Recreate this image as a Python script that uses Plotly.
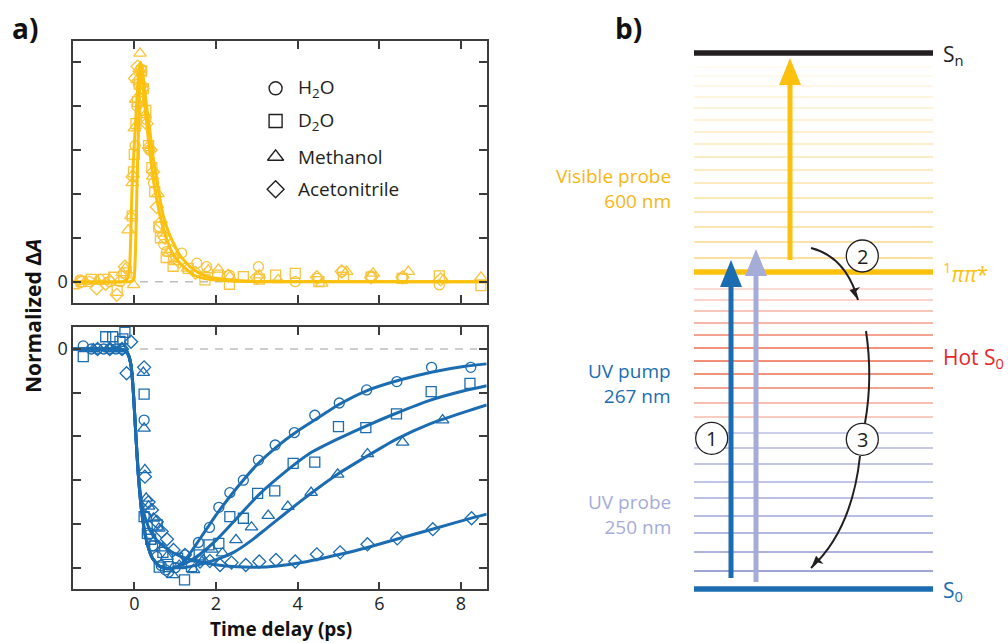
import plotly.graph_objects as go

W, H = 1008, 643

# ---------------- data: panel a, top (visible probe) ----------------
vis_fit1_x = [-1.5, -0.3, -0.2, -0.14, -0.11, -0.085, -0.06, -0.02, 0.02, 0.07, 0.11, 0.15,
              0.2, 0.25, 0.32, 0.4, 0.47, 0.55, 0.63, 0.72, 0.83, 0.95, 1.12, 1.3, 1.45, 1.7, 2.0, 2.5, 3.0, 8.63]
vis_fit1_y = [0.0, 0.0, 0.005, 0.03, 0.08, 0.22, 0.4, 0.56, 0.69, 0.85, 0.95, 1.0,
              0.92, 0.81, 0.69, 0.56, 0.46, 0.375, 0.30, 0.235, 0.175, 0.125, 0.084, 0.052, 0.03, 0.015, 0.007, 0.002, 0.0, 0.0]
vis_fit2_x = [-1.5, -0.1, -0.04, 0.0, 0.02, 0.04, 0.06, 0.08, 0.1, 0.12, 0.14, 0.16,
              0.22, 0.3, 0.38, 0.46, 0.55, 0.63, 0.71, 0.83, 0.96, 1.1, 1.28, 1.45, 1.69, 2.0, 2.5, 3.0, 8.63]
vis_fit2_y = [0.0, 0.0, 0.005, 0.03, 0.09, 0.22, 0.39, 0.54, 0.69, 0.83, 0.95, 1.0,
              0.93, 0.8, 0.69, 0.57, 0.46, 0.375, 0.30, 0.23, 0.175, 0.125, 0.084, 0.055, 0.03, 0.015, 0.005, 0.001, 0.0]

vis_h2o_x = [-1.33, -1.1, -0.85, -0.6, -0.35, -0.1, 0.02, 0.06, 0.1, 0.16, 0.22, 0.28, 0.37, 0.47, 0.61,
             0.72, 0.79, 0.96, 1.16, 1.53, 1.77, 2.33, 3.04, 3.94, 4.48, 5.09, 5.79, 6.57, 7.47]
vis_h2o_y = [0.008, 0.0, 0.01, 0.0, 0.0, 0.02, 0.62, 0.8, 0.9, 0.97, 0.88, 0.74, 0.6, 0.45, 0.25,
             0.17, 0.137, 0.106, 0.13, 0.084, 0.068, 0.03, 0.068, 0.0, 0.015, 0.046, 0.026, 0.015, -0.015]
vis_d2o_x = [-1.3, -1.05, -0.75, -0.5, -0.42, -0.2, -0.05, -0.02, 0.0, 0.04, 0.08, 0.12, 0.18, 0.22, 0.28,
             0.35, 0.43, 0.5, 0.6, 0.64, 0.78, 0.95, 1.32, 1.73, 2.04, 2.33, 2.67, 3.06, 3.46, 3.94, 4.52,
             5.12, 5.8, 6.56, 7.47, 8.49]
vis_d2o_y = [0.0, 0.01, 0.01, 0.02, -0.04, 0.04, 0.3, 0.5, 0.58, 0.72, 0.82, 0.9, 0.96, 0.88, 0.78,
             0.62, 0.52, 0.41, 0.25, 0.2, 0.11, 0.07, 0.06, 0.008, 0.03, -0.012, 0.023, 0.011, 0.03, 0.038, 0.0,
             0.02, 0.02, 0.015, 0.026, -0.018]
vis_meoh_x = [-1.5, -1.2, -0.9, -0.6, -0.3, -0.22, -0.15, -0.08, -0.02, -0.05, 0.0, 0.03, 0.07, 0.12, 0.14,
              0.2, 0.27, 0.35, 0.45, 0.58, 0.7, 0.85, 1.0, 1.3, 1.81, 2.06, 2.34, 3.06, 3.52, 4.59, 5.2,
              5.85, 6.71, 7.57, 8.49]
vis_meoh_y = [-0.02, 0.0, 0.0, 0.01, 0.04, 0.06, 0.235, 0.3, -0.015, 0.45, 0.7, 0.83, 0.92, 0.97, 1.04,
              0.9, 0.76, 0.62, 0.48, 0.4, 0.22, 0.13, 0.09, 0.06, 0.053, 0.056, 0.023, 0.03, 0.008, -0.008, 0.046,
              0.038, 0.046, 0.008, 0.02]
vis_acn_x = [-1.3, -0.92, -0.7, -0.43, -0.23, -0.04, 0.016, 0.08, 0.14, 0.2, 0.3, 0.4, 0.46, 0.55, 0.65,
             0.75, 0.9, 1.1, 1.5, 2.3, 3.0, 4.47, 5.08, 5.8, 6.57, 7.5]
vis_acn_y = [0.0, -0.03, -0.01, -0.06, 0.068, 0.478, 0.926, 0.98, 0.95, 0.88, 0.72, 0.6, 0.5, 0.34, 0.27,
             0.2, 0.14, 0.09, 0.04, 0.026, 0.02, 0.02, 0.046, 0.02, 0.02, 0.01]

# ---------------- data: panel a, bottom (UV probe) ----------------
uv_early_x = [-1.5, -0.5, -0.3, -0.22, -0.15, -0.08, -0.024, 0.033, 0.099]
uv_early_y = [0.0, 0.0, -0.002, -0.008, -0.025, -0.075, -0.195, -0.378, -0.576]
uv_fast_x = [0.18, 0.287, 0.425, 0.59, 0.8, 1.0]
uv_fast_y = [-0.744, -0.866, -0.95, -0.99, -1.005, -1.0]

uv_fit_h2o_x = [1.2, 1.4, 1.6, 1.8, 2.0, 2.3, 2.6, 3.0, 3.5, 4.0, 4.5, 5.0, 5.7, 6.5, 7.3, 8.1, 8.63]
uv_fit_h2o_y = [-0.975, -0.925, -0.87, -0.815, -0.76, -0.685, -0.615, -0.53, -0.445, -0.375, -0.315,
                -0.255, -0.19, -0.142, -0.105, -0.079, -0.068]
uv_fit_d2o_x = [1.2, 1.4, 1.6, 2.0, 2.43, 3.04, 3.65, 4.3, 5.0, 5.7, 6.4, 7.2, 8.1, 8.63]
uv_fit_d2o_y = [-0.985, -0.965, -0.94, -0.875, -0.79, -0.668, -0.569, -0.477, -0.41, -0.35, -0.295,
                -0.237, -0.19, -0.168]
uv_fit_meoh_x = [1.2, 1.6, 2.0, 2.43, 2.83, 3.24, 3.65, 4.06, 4.47, 4.96, 5.7, 6.42, 7.24, 8.14, 8.63]
uv_fit_meoh_y = [-1.0, -0.985, -0.963, -0.93, -0.881, -0.82, -0.759, -0.698, -0.64, -0.575, -0.49,
                 -0.412, -0.342, -0.285, -0.256]
uv_fit_acn_x = [0.18, 0.28, 0.4, 0.55, 0.7, 0.9, 1.12, 1.4, 1.61, 2.0, 2.5, 3.0, 3.5, 4.0, 4.5, 5.04,
                5.69, 6.42, 7.32, 8.3, 8.63]
uv_fit_acn_y = [-0.7, -0.78, -0.835, -0.875, -0.9, -0.926, -0.947, -0.964, -0.973, -0.987, -0.996,
                -0.998, -0.992, -0.98, -0.962, -0.939, -0.909, -0.87, -0.823, -0.771, -0.755]

uv_h2o_x = [-1.25, -1.05, -0.9, -0.75, -0.6, -0.45, -0.3, 0.24, 0.3, 0.36, 0.45, 0.55, 0.66, 0.76, 0.84,
            1.0, 1.24, 1.57, 1.84, 2.07, 2.34, 2.67, 3.04, 3.45, 3.92, 4.42, 5.02, 5.69, 6.43, 7.28, 8.24]
uv_h2o_y = [0.014, 0.0, 0.0, 0.0, 0.0, 0.0, 0.0, -0.325, -0.77, -0.85, -0.9, -0.95, -0.99, -1.01, -1.02,
            -1.0, -0.942, -0.885, -0.816, -0.724, -0.657, -0.6, -0.508, -0.439, -0.382, -0.303, -0.247,
            -0.187, -0.149, -0.084, -0.084]
uv_d2o_x = [-1.25, -0.7, -0.53, -0.35, -0.28, -0.23, 0.24, 0.24, 0.32, 0.4, 0.5, 0.56, 0.61, 0.7, 0.83,
            1.06, 1.23, 1.4, 1.59, 1.83, 2.07, 2.34, 2.67, 3.02, 3.44, 3.89, 4.42, 5.0, 5.67, 6.42, 7.27, 8.22]
uv_d2o_y = [-0.035, 0.056, 0.056, 0.035, 0.046, 0.076, -0.206, -0.767, -0.843, -0.87, -0.9, -0.805,
            -0.998, -0.93, -0.995, -0.957, -1.056, -0.995, -0.942, -0.896, -0.889, -0.767, -0.774, -0.66,
            -0.649, -0.523, -0.517, -0.355, -0.36, -0.297, -0.195, -0.157]
uv_meoh_x = [-1.0, -0.6, -0.3, 0.22, 0.24, 0.26, 0.29, 0.35, 0.47, 0.6, 0.69, 0.8, 0.94, 1.1, 1.45, 1.69,
             1.9, 2.16, 2.49, 2.87, 3.28, 3.76, 4.33, 4.98, 5.71, 6.57, 7.55]
uv_meoh_y = [0.0, 0.0, 0.0, -0.108, -0.363, -0.553, -0.683, -0.72, -0.774, -0.82, -0.911, -0.95, -1.033,
             -0.99, -1.01, -0.965, -0.916, -0.934, -0.873, -0.815, -0.762, -0.721, -0.657, -0.573, -0.48,
             -0.427, -0.325]
uv_acn_x = [-0.9, -0.6, -0.3, -0.19, -0.08, 0.24, 0.26, 0.35, 0.43, 0.55, 0.67, 0.8, 0.96, 1.24, 1.61,
            1.85, 2.1, 2.38, 2.73, 3.06, 3.47, 3.94, 4.47, 5.04, 5.71, 6.44, 7.31, 8.26]
uv_acn_y = [0.0, 0.0, 0.0, -0.111, 0.033, -0.084, -0.584, -0.7, -0.736, -0.79, -0.835, -0.87, -0.919,
            -0.942, -0.972, -0.97, -0.988, -0.977, -0.988, -0.972, -0.965, -0.972, -0.939, -0.93, -0.893,
            -0.866, -0.824, -0.774]

x_ticks = [0, 2, 4, 6, 8]
x_tick_labels = ["0", "2", "4", "6", "8"]
top_y_minor = [0.2, 0.4, 0.6, 0.8, 1.0]
bottom_y_minor = [-0.2, -0.4, -0.6, -0.8, -1.0]
zero_line_x = [0.14, 8.4]

legend_labels = ["H<sub>2</sub>O", "D<sub>2</sub>O", "Methanol", "Acetonitrile"]
legend_symbols = ["circle-open", "square-open", "triangle-up-open", "diamond-open"]
legend_y = [0.881, 0.732, 0.569, 0.421]
legend_marker_x = 3.46
legend_text_x = 3.95

# ---------------- data: panel b (level diagram, diagram units = px) ----------------
level_sn, level_pp, level_s0 = 53, 272, 589
upper_levels = [67, 76, 86, 97, 108, 120, 132, 144, 157, 170, 183, 198, 212, 227, 242, 258]
upper_alpha = [0.06, 0.08, 0.12, 0.15, 0.17, 0.2, 0.22, 0.24, 0.26, 0.28, 0.3, 0.32, 0.34, 0.37, 0.4, 0.45]
hot_levels = [289, 300, 311, 323, 335, 348, 361, 374, 388, 403, 417]
hot_alpha = [0.25, 0.3, 0.4, 0.5, 0.65, 0.75, 0.78, 0.75, 0.65, 0.45, 0.35]
cold_levels = [433, 448, 464, 482, 498, 516, 533, 552, 571]
cold_alpha = [0.45, 0.5, 0.52, 0.55, 0.58, 0.62, 0.66, 0.72, 0.85]
level_x = [694, 933]

YEL = '#FCC10E'
YEL_MK = '#F9C43C'
BLUE = '#1B6CB1'
LAV = '#A6ACD8'
RED = '#E5252B'
DARK = '#231F20'
AX = '#3C3C3C'
FONT = 'Open Sans'

fig = go.Figure()


def scat(x, y, xa, ya, **kw):
    fig.add_trace(go.Scatter(x=x, y=y, xaxis=xa, yaxis=ya, showlegend=False,
                             hoverinfo='skip', **kw))


# zero dashed lines
for xa, ya in (('x', 'y'), ('x2', 'y2')):
    scat(zero_line_x, [0, 0], xa, ya, mode='lines',
         line=dict(color='#BDBDBD', width=1.5, dash='8px,7px'))

mk_sizes = {"circle-open": 10, "square-open": 10, "triangle-up-open": 11, "diamond-open": 10}

# top markers
for (xs, ys), sym in zip([(vis_h2o_x, vis_h2o_y), (vis_d2o_x, vis_d2o_y),
                          (vis_meoh_x, vis_meoh_y), (vis_acn_x, vis_acn_y)], legend_symbols):
    scat(xs, ys, 'x', 'y', mode='markers',
         marker=dict(symbol=sym, size=mk_sizes[sym], color=YEL_MK, line=dict(width=1.3)))
# top fits
for xs, ys in ((vis_fit1_x, vis_fit1_y), (vis_fit2_x, vis_fit2_y)):
    scat(xs, ys, 'x', 'y', mode='lines', line=dict(color=YEL, width=3, shape='spline', smoothing=0.6))

# bottom markers
for (xs, ys), sym in zip([(uv_h2o_x, uv_h2o_y), (uv_d2o_x, uv_d2o_y),
                          (uv_meoh_x, uv_meoh_y), (uv_acn_x, uv_acn_y)], legend_symbols):
    scat(xs, ys, 'x2', 'y2', mode='markers',
         marker=dict(symbol=sym, size=mk_sizes[sym], color=BLUE, line=dict(width=1.3)))
# bottom fits
fast_x = uv_early_x + uv_fast_x
fast_y = uv_early_y + uv_fast_y
for tx, ty in ((uv_fit_h2o_x, uv_fit_h2o_y), (uv_fit_d2o_x, uv_fit_d2o_y), (uv_fit_meoh_x, uv_fit_meoh_y)):
    scat(fast_x + tx, fast_y + ty, 'x2', 'y2', mode='lines',
         line=dict(color=BLUE, width=3, shape='spline', smoothing=0.6))
scat(uv_early_x + uv_fit_acn_x, uv_early_y + uv_fit_acn_y, 'x2', 'y2', mode='lines',
     line=dict(color=BLUE, width=3, shape='spline', smoothing=0.6))

# legend glyphs (black)
for sym, ly in zip(legend_symbols, legend_y):
    scat([legend_marker_x], [ly], 'x', 'y', mode='markers',
         marker=dict(symbol=sym, size=13 if sym != 'triangle-up-open' else 14, color=DARK, line=dict(width=1.4)))

annotations = []
for lab, ly in zip(legend_labels, legend_y):
    annotations.append(dict(x=legend_text_x, y=ly, xref='x', yref='y', text=lab, showarrow=False,
                            xanchor='left', yanchor='middle', font=dict(family=FONT, size=19, color=DARK)))


def paper(px, py):
    return px / W, 1 - py / H


# panel labels and axis titles
for txt, (px, py), size, ang, ya in (("<b>a)</b>", (25, 28), 28, 0, 'middle'),
                                     ("<b>b)</b>", (628, 28), 28, 0, 'middle'),
                                     ("<b>Normalized Δ<i>A</i></b>", (33, 316), 21, -90, 'middle'),
                                     ("<b>Time delay (ps)</b>", (281, 644), 19, 0, 'bottom')):
    xp, yp = paper(px, py)
    annotations.append(dict(x=xp, y=yp, xref='paper', yref='paper', text=txt, showarrow=False,
                            xanchor='center', yanchor=ya, textangle=ang,
                            font=dict(family=FONT, size=size, color='#111111')))

# ---------------- panel b shapes ----------------
shapes = []


def hline(y, color, width):
    shapes.append(dict(type='line', xref='x3', yref='y3', x0=level_x[0], x1=level_x[1], y0=y, y1=y,
                       line=dict(color=color, width=width)))


for y, a in zip(upper_levels, upper_alpha):
    hline(y, f'rgba(247,186,40,{a})', 2)
for y, a in zip(hot_levels, hot_alpha):
    hline(y, f'rgba(238,110,80,{a})', 2)
for y, a in zip(cold_levels, cold_alpha):
    hline(y, f'rgba(140,148,208,{a})', 2)
hline(level_sn, DARK, 5.5)
hline(level_pp, YEL, 5.5)
hline(level_s0, BLUE, 5.5)


def circle(cx, cy, r=16):
    shapes.append(dict(type='circle', xref='x3', yref='y3', x0=cx - r, x1=cx + r, y0=cy - r, y1=cy + r,
                       line=dict(color=DARK, width=1.3), fillcolor='white'))


def vert_arrow(x, y0, tip, color, hl=27, hw=11, w=5):
    shapes.append(dict(type='line', xref='x3', yref='y3', x0=x, x1=x, y0=y0, y1=tip + hl - 2,
                       line=dict(color=color, width=w)))
    shapes.append(dict(type='path', xref='x3', yref='y3',
                       path=f'M {x - hw},{tip + hl} L {x},{tip} L {x + hw},{tip + hl} Z',
                       fillcolor=color, line=dict(width=0)))


def curve_arrow(p0, c, p1, head=True):
    shapes.append(dict(type='path', xref='x3', yref='y3',
                       path=f'M {p0[0]},{p0[1]} Q {c[0]},{c[1]} {p1[0]},{p1[1]}',
                       line=dict(color=DARK, width=2), fillcolor='rgba(0,0,0,0)'))
    if head:
        dx, dy = p1[0] - c[0], p1[1] - c[1]
        n = (dx * dx + dy * dy) ** 0.5
        dx, dy = dx / n, dy / n
        L, hw = 12, 5.5
        bx, by = p1[0] - L * dx, p1[1] - L * dy
        shapes.append(dict(type='path', xref='x3', yref='y3',
                           path=f'M {bx - hw * dy},{by + hw * dx} L {p1[0]},{p1[1]} '
                                f'L {p1[0] - 0.7 * L * dx},{p1[1] - 0.7 * L * dy} '
                                f'L {bx + hw * dy},{by - hw * dx} Z',
                           fillcolor=DARK, line=dict(width=0)))


circle(711.7, 438.3)
vert_arrow(731, 578, 260, BLUE)
vert_arrow(756, 582, 249, LAV)
vert_arrow(790, 260, 58, YEL)
curve_arrow((811, 248), (846, 257), (858, 300))
circle(862.3, 256)
curve_arrow((866, 331), (873, 378), (865, 423), head=False)
curve_arrow((860, 456), (852, 530), (811, 568))
circle(862.3, 439.3)

for txt, x, y in (("1", 711.7, 438.3), ("2", 862.3, 256), ("3", 862.3, 439.3)):
    annotations.append(dict(x=x, y=y, xref='x3', yref='y3', text=txt, showarrow=False,
                            font=dict(family=FONT, size=20, color=DARK)))

for txt, y, col in (("Visible probe<br>600 nm", 188, '#F7B614'),
                    ("UV pump<br>267 nm", 383, BLUE),
                    ("UV probe<br>250 nm", 514, LAV)):
    annotations.append(dict(x=673, y=y, xref='x3', yref='y3', text=txt, showarrow=False,
                            xanchor='right', yanchor='middle', align='right',
                            font=dict(family=FONT, size=19, color=col)))

for txt, y, col in (("S<sub>n</sub>", 55, DARK), ("<sup>1</sup><i>ππ</i>*", 272, YEL),
                    ("Hot S<sub>0</sub>", 358, RED), ("S<sub>0</sub>", 591, BLUE)):
    annotations.append(dict(x=941, y=y, xref='x3', yref='y3', text=txt, showarrow=False,
                            xanchor='left', yanchor='middle',
                            font=dict(family=FONT, size=21, color=col)))

axis_common = dict(showline=True, mirror='allticks', linecolor=AX, linewidth=1.6, ticks='inside',
                   ticklen=8, tickwidth=1.6, tickcolor=AX, showgrid=False, zeroline=False,
                   tickfont=dict(family=FONT, size=18, color='#222222'))
xdom = [73.3 / W, 486.7 / W]


def minor(vals):
    return dict(tickvals=vals, ticks='inside', ticklen=8, tickwidth=1.6, tickcolor=AX, showgrid=False)


fig.update_layout(
    width=W, height=H, margin=dict(l=0, r=0, t=0, b=0),
    paper_bgcolor='white', plot_bgcolor='white', showlegend=False,
    xaxis=dict(domain=xdom, range=[-1.494, 8.63], anchor='y', tickvals=x_ticks,
               showticklabels=False, **axis_common),
    yaxis=dict(domain=[1 - 302.7 / H, 1 - 40.7 / H], range=[-0.096, 1.098], anchor='x',
               tickvals=[0], ticktext=["0"], minor=minor(top_y_minor), **axis_common),
    xaxis2=dict(domain=xdom, range=[-1.494, 8.63], anchor='y2', tickvals=x_ticks,
                ticktext=x_tick_labels, ticklabelstandoff=-3, **axis_common),
    yaxis2=dict(domain=[1 - 589.3 / H, 1 - 326.7 / H], range=[-1.099, 0.102], anchor='x2',
                tickvals=[0], ticktext=["0"], minor=minor(bottom_y_minor), **axis_common),
    xaxis3=dict(domain=[0.55, 1.0], range=[0.55 * W, W], anchor='y3', visible=False,
                fixedrange=True),
    yaxis3=dict(domain=[0, 1], range=[H, 0], anchor='x3', visible=False, fixedrange=True),
    annotations=annotations, shapes=shapes,
)

fig.write_html("out.html")
